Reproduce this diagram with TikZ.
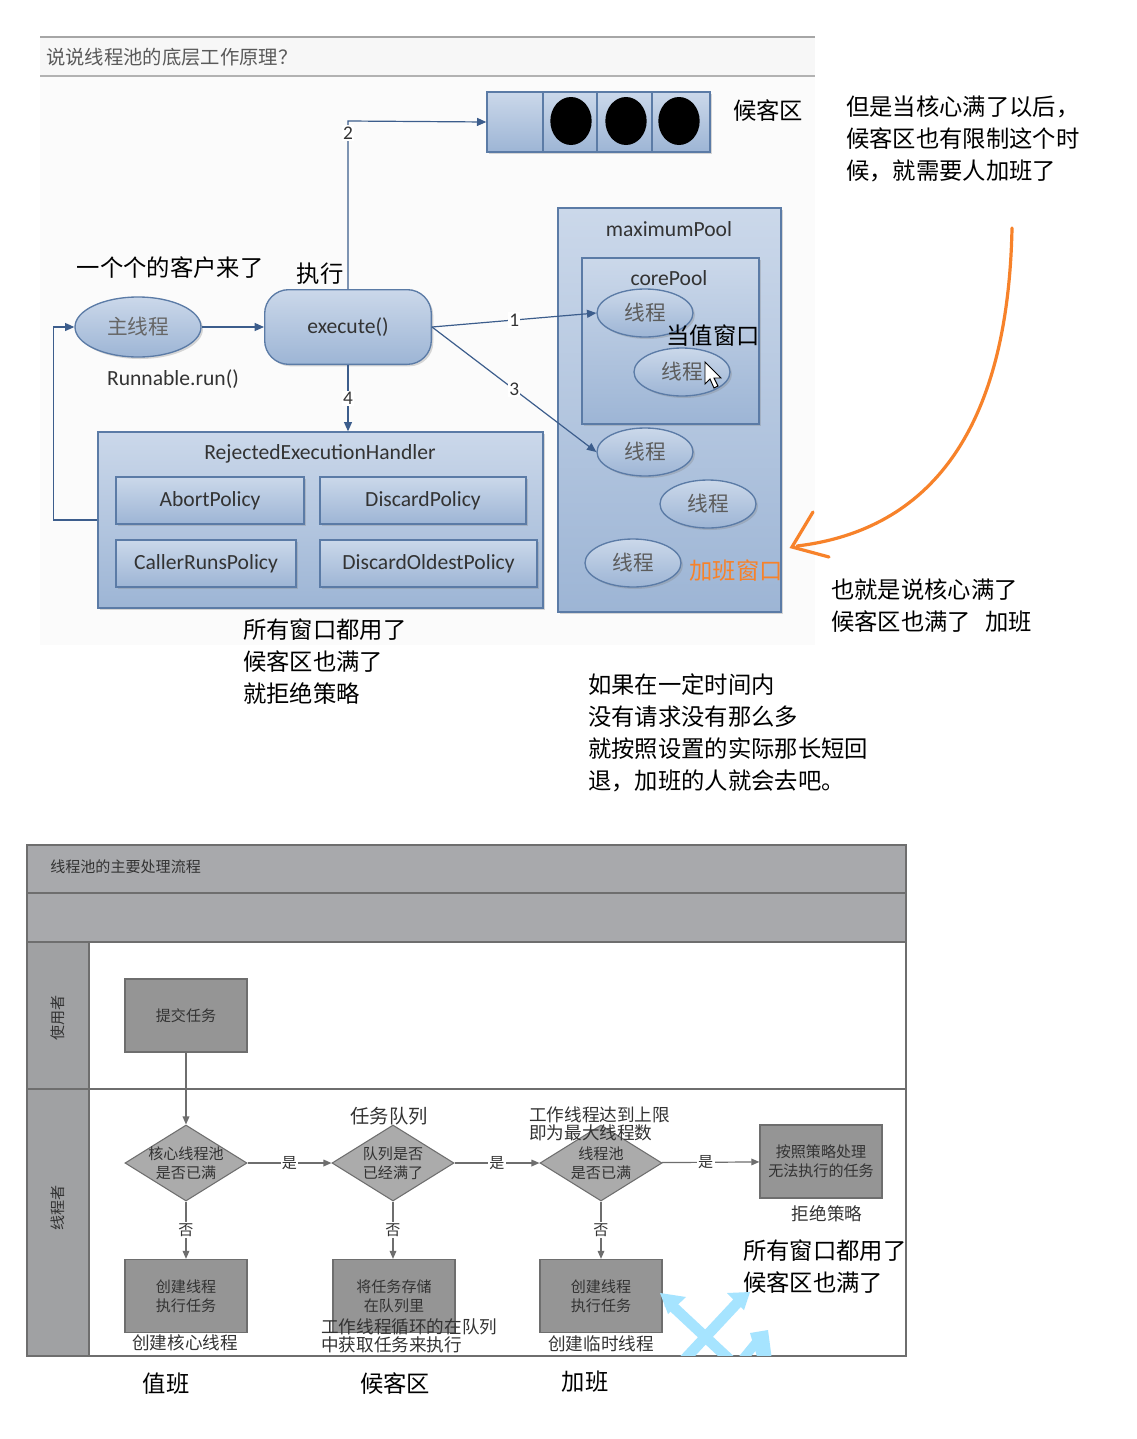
\documentclass[tikz,border=0pt]{standalone}
\usepackage{fontspec}
\setmainfont{Noto Sans CJK SC}
\newfontfamily\lat{Carlito}
\usetikzlibrary{arrows.meta,shapes.geometric,shadows}
\definecolor{bfA}{HTML}{CBD8EA}
\definecolor{bfB}{HTML}{9DB5D5}
\definecolor{bdr}{HTML}{5B7BA6}
\definecolor{bln}{HTML}{3C5D8C}
\definecolor{orng}{HTML}{F7822A}
\definecolor{band}{HTML}{A8A9AC}
\definecolor{gbox}{HTML}{959595}
\definecolor{gdia}{HTML}{ABABAB}
\definecolor{gbd}{HTML}{6E6E6E}
\definecolor{cyanc}{HTML}{A6E4FF}
\definecolor{ttxt}{HTML}{333333}
\tikzset{
  bshape/.style={top color=bfA, bottom color=bfB, draw=bdr, line width=1pt,
    drop shadow={shadow xshift=1.5pt, shadow yshift=-1.5pt, opacity=0.3}},
  thr/.style={ellipse, bshape, minimum width=72pt, minimum height=36pt, inner sep=0pt,
    text=ttxt!80, font=\fontsize{15.5}{18}\selectfont},
  latf/.style={font=\lat\fontsize{16.2}{19}\selectfont, text=ttxt},
  pol/.style={rectangle, bshape, minimum height=35.25pt, inner sep=0pt, latf},
  big/.style={font=\fontsize{17.5}{21}\selectfont, text=black, inner sep=0pt},
  num/.style={font=\lat\fontsize{14.5}{16}\selectfont, fill=white, inner sep=1pt, text=ttxt},
  barr/.style={draw=bln, line width=0.9pt, -{Triangle[length=7pt,width=6pt]}},
  gnode/.style={rectangle, fill=gbox, draw=gbd, line width=1pt, minimum width=91.5pt,
    minimum height=54.75pt, inner sep=0pt, align=center, text=ttxt,
    font=\fontsize{11.3}{14}\selectfont},
  gdiam/.style={diamond, fill=gdia, draw=gbd, line width=0.8pt, minimum width=91.5pt,
    minimum height=57pt, inner sep=0pt},
  dtext/.style={align=center, text=ttxt, font=\fontsize{11.3}{14}\selectfont, inner sep=0pt},
  garr/.style={draw=gbd, line width=0.9pt, -{Triangle[length=6pt,width=5pt]}},
  glab/.style={fill=white, inner sep=1pt, text=ttxt, font=\fontsize{11.3}{13}\selectfont},
  mid/.style={font=\fontsize{13.2}{15}\selectfont, text=ttxt, inner sep=0pt},
}
\begin{document}
\begin{tikzpicture}[x=0.75pt,y=-0.75pt]
\useasboundingbox (0,0) rectangle (1137,1439);
\fill[white] (0,0) rectangle (1137,1439);

% ---------------- top diagram ----------------
\fill[black!1.5] (40,37) rectangle (815,645);
\fill[black!3] (40,37) rectangle (815,76);
\draw[black!35, line width=1.2pt] (40,37) -- (815,37);
\draw[black!30, line width=1pt] (40,76) -- (815,76);
\node[anchor=west, inner sep=0pt, text=black!65, font=\fontsize{14.5}{16}\selectfont] (title) at (46,57) {说说线程池的底层工作原理？};

% queue
\node[rectangle, bshape, minimum width=167.25pt, minimum height=45pt, inner sep=0pt] (queue) at (598.5,122) {};
\foreach \xx in {543,597,652} \draw[bdr, line width=1pt] (\xx,92) -- (\xx,152);
\fill[black] (571,121) ellipse [x radius=15.5pt, y radius=18pt];
\fill[black] (626,121) ellipse [x radius=15.5pt, y radius=18pt];
\fill[black] (679,121) ellipse [x radius=15.5pt, y radius=18pt];
\node[big] (hk) at (768,111) {候客区};

% main nodes
\node[ellipse, bshape, minimum width=94.5pt, minimum height=45pt, inner sep=0pt, text=ttxt!75,
  font=\fontsize{15.5}{18}\selectfont] (mainth) at (138,327) {主线程};
\node[rectangle, rounded corners=18pt, bshape, minimum width=125pt, minimum height=56pt, inner sep=0pt,
  latf] (exec) at (348,327) {execute()};
\node[inner sep=0pt, latf] (runl) at (173,379) {Runnable.run()};
\node[big] (kehu) at (170,268) {一个个的客户来了};
\node[big] (zx) at (320,274) {执行};

% handler
\node[rectangle, bshape, minimum width=333.75pt, minimum height=132pt, inner sep=0pt] (handler) at (320.5,520) {};
\node[inner sep=0pt, latf] (htitle) at (320,454) {RejectedExecutionHandler};
\node[pol, minimum width=141pt] (abort) at (210,500.5) {AbortPolicy};
\node[pol, minimum width=154.5pt] (discard) at (423,500.5) {DiscardPolicy};
\node[pol, minimum width=135pt] (caller) at (206,563.5) {CallerRunsPolicy};
\node[pol, minimum width=162.75pt] (oldest) at (428.5,563.5) {DiscardOldestPolicy};

% pools
\node[rectangle, bshape, minimum width=167.25pt, minimum height=303pt, inner sep=0pt] (maxp) at (669.5,410) {};
\node[inner sep=0pt, latf] (maxl) at (669,229) {maximumPool};
\node[rectangle, bshape, minimum width=132.75pt, minimum height=124.5pt, inner sep=0pt] (corep) at (670.5,341) {};
\node[inner sep=0pt, latf] (corel) at (669,278) {corePool};
\node[thr] (t1) at (645,313) {线程};
\node[thr] (t2) at (682,372) {线程};
\node[thr] (t3) at (645,452) {线程};
\node[thr] (t4) at (708,504) {线程};
\node[thr] (t5) at (633,563) {线程};
\node[big] (dz) at (713,336) {当值窗口};
\node[big, text=orng] (jb) at (736,571) {加班窗口};
% cursor
\filldraw[fill=white, draw=black, line width=0.7pt, shift={(705,362)}]
  (0,0) -- (0,22) -- (5,17) -- (9,26) -- (13,24) -- (9,16) -- (16,16) -- cycle;

% connectors
\draw[barr] (mainth) -- (exec);
\draw[barr] (exec.north) -- (348,121) -- (queue.west);
\node[num] (n2) at (348,133) {2};
\draw[barr] (exec.east) -- (t1.west) node[num, pos=0.5] (n1) {1};
\draw[barr] (exec.east) -- (t3.west) node[num, pos=0.5] (n3) {3};
\draw[barr] (exec.south) -- (exec.south |- handler.north) node[num, pos=0.5] (n4) {4};
\draw[barr] (handler.west) -- ++(-44,0) |- (mainth.west);

% orange
\coordinate (oa) at (1012,228);
\coordinate (ob) at (797,546);
\draw[orng, line width=2.4pt, line cap=round] (oa) .. controls (1008,430) and (930,530) .. (ob);
\draw[orng, line width=2.4pt, line cap=round] (813,512) -- (792,547) -- (829,557);

% annotations
\node[big, anchor=west] (r1) at (846,107) {但是当核心满了以后，};
\node[big, anchor=west] (r2) at (846,139) {候客区也有限制这个时};
\node[big, anchor=west] (r3) at (846,171) {候，就需要人加班了};
\node[big, anchor=west] (r4) at (831,590) {也就是说核心满了};
\node[big, anchor=west] (r5) at (831,622) {候客区也满了\hspace{0.6em}加班};
\node[big, anchor=west] (a1) at (243,630) {所有窗口都用了};
\node[big, anchor=west] (a2) at (243,662) {候客区也满了};
\node[big, anchor=west] (a3) at (243,694) {就拒绝策略};
\node[big, anchor=west] (b1) at (588,685) {如果在一定时间内};
\node[big, anchor=west] (b2) at (588,717) {没有请求没有那么多};
\node[big, anchor=west] (b3) at (588,749) {就按照设置的实际那长短回};
\node[big, anchor=west] (b4) at (588,781) {退，加班的人就会去吧。};

% ---------------- bottom flowchart ----------------
\fill[band] (27,845) rectangle (906,942);
\fill[band!95!black] (27,942) rectangle (89,1356);
\draw[gbd, line width=1.2pt] (27,845) rectangle (906,1356);
\draw[gbd, line width=1.2pt] (27,893) -- (906,893);
\draw[gbd, line width=1.2pt] (27,942) -- (906,942);
\draw[gbd, line width=1.2pt] (89,942) -- (89,1356);
\draw[gbd, line width=1.2pt] (27,1089) -- (906,1089);
\node[anchor=west, inner sep=0pt, text=ttxt, font=\fontsize{11.3}{13}\selectfont] (ftitle) at (50,867) {线程池的主要处理流程};
\node[rotate=90, inner sep=0pt, text=ttxt, font=\fontsize{11.3}{13}\selectfont] (lane1) at (58,1018) {使用者};
\node[rotate=90, inner sep=0pt, text=ttxt, font=\fontsize{11.3}{13}\selectfont] (lane2) at (58,1208) {线程者};

\node[gnode] (submit) at (186,1015.5) {提交任务};
\node[gdiam] (d1) at (186,1163) {};
\node[dtext] at (d1) {核心线程池\\是否已满};
\node[gdiam] (d2) at (393,1163) {};
\node[dtext] at (d2) {队列是否\\已经满了};
\node[gdiam] (d3) at (601,1163) {};
\node[dtext] at (d3) {线程池\\是否已满};
\node[gnode] (rej) at (821,1161.5) {按照策略处理\\无法执行的任务};
\node[gnode] (c1) at (186,1296) {创建线程\\执行任务};
\node[gnode] (c2) at (394,1296) {将任务存储\\在队列里};
\node[gnode] (c3) at (601,1296) {创建线程\\执行任务};

\draw[garr] (submit) -- (d1);
\draw[garr] (d1) -- node[glab] {是} (d2);
\draw[garr] (d2) -- node[glab] {是} (d3);
\draw[garr] (d3) -- node[glab, pos=0.45] {是} (rej);
\draw[garr] (d1) -- node[glab, pos=0.5] {否} (c1);
\draw[garr] (d2.south) -- node[glab, pos=0.5] {否} (d2.south |- c2.north);
\draw[garr] (d3) -- node[glab, pos=0.5] {否} (c3);

\node[mid, font=\fontsize{14.5}{16}\selectfont] (rwdl) at (389,1116) {任务队列};
\node[mid, anchor=west] (gz1) at (529,1115) {工作线程达到上限};
\node[mid, anchor=west] (gz2) at (529,1133) {即为最大线程数};
\node[mid] (jjcl) at (827,1214) {拒绝策略};
\node[mid] (cjhx) at (185,1343) {创建核心线程};
\node[mid, anchor=west] (xh1) at (321,1327) {工作线程循环的在队列};
\node[mid, anchor=west] (xh2) at (321,1345) {中获取任务来执行};
\node[mid] (cjls) at (601,1344) {创建临时线程};
\node[big, anchor=west] (s1) at (743,1251) {所有窗口都用了};
\node[big, anchor=west] (s2) at (743,1283) {候客区也满了};

% cyan scribble
\begin{scope}
\clip (89,1089) rectangle (905,1355);
\draw[cyanc, line width=8pt] (668,1302) -- (730,1360);
\draw[cyanc, line width=8pt] (684,1360) -- (740,1300);
\fill[cyanc] (660,1293) -- (686,1297) -- (668,1314) -- cycle;
\fill[cyanc] (727,1293) -- (750,1292) -- (744,1310) -- cycle;
\draw[cyanc, line width=7pt] (742,1360) -- (760,1338);
\fill[cyanc] (750,1333) -- (768,1330) -- (772,1360) -- (758,1360) -- cycle;
\end{scope}

\node[big] (zb) at (166,1384) {值班};
\node[big] (hkq) at (395,1384) {候客区};
\node[big] (jiab) at (585,1382) {加班};
\end{tikzpicture}
\end{document}
